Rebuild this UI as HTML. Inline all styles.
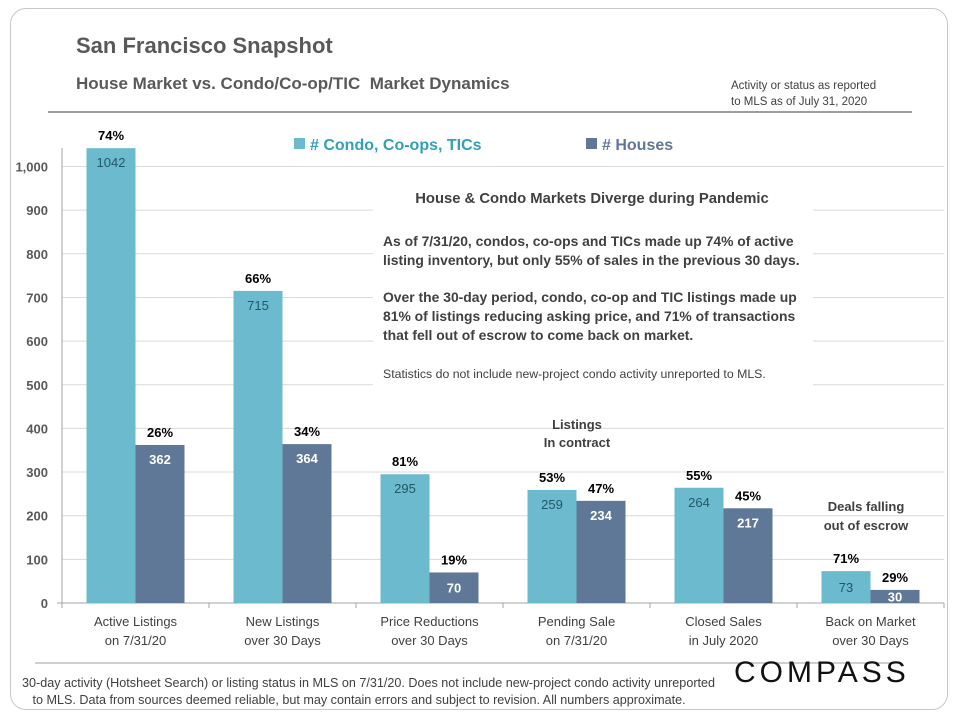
<!DOCTYPE html>
<html><head><meta charset="utf-8">
<style>
body{margin:0;background:#fff;font-family:"Liberation Sans",sans-serif;}
#wrap{position:relative;width:960px;height:720px;overflow:hidden;}
#card{position:absolute;left:10px;top:8px;width:938px;height:702px;border:1.5px solid #c8c8c8;border-radius:16px;box-sizing:border-box;}
.t{position:absolute;white-space:nowrap;}
</style></head><body>
<div id="wrap">
<div id="card"></div>
<div class="t" style="left:76px;top:33px;font-size:22px;font-weight:bold;color:#595959;">San Francisco Snapshot</div>
<div class="t" style="left:76px;top:74px;font-size:17px;font-weight:bold;color:#595959;">House Market vs. Condo/Co-op/TIC&nbsp; Market Dynamics</div>
<div class="t" style="left:731px;top:78px;font-size:11.5px;color:#404040;line-height:16px;">Activity or status as reported<br>to MLS as of July 31, 2020</div>
<svg id="chart" width="960" height="720" style="position:absolute;left:0;top:0"></svg>
<div class="t" style="left:22px;top:675px;font-size:12.6px;color:#404040;line-height:17px;">30-day activity (Hotsheet Search) or listing status in MLS on 7/31/20. Does not include new-project condo activity unreported<br>&nbsp;&nbsp; to MLS. Data from sources deemed reliable, but may contain errors and subject to revision. All numbers approximate.</div>
<div class="t" style="left:734px;top:656px;font-size:30px;letter-spacing:4px;color:#111;">COMPASS</div>
</div>
<script>
const categories=[["Active Listings","on 7/31/20"],["New Listings","over 30 Days"],["Price Reductions","over 30 Days"],["Pending Sale","on 7/31/20"],["Closed Sales","in July 2020"],["Back on Market","over 30 Days"]];
const condoValues=[1042,715,295,259,264,73];
const houseValues=[362,364,70,234,217,30];
const condoPct=["74%","66%","81%","53%","55%","71%"];
const housePct=["26%","34%","19%","47%","45%","29%"];
const yTicks=[0,100,200,300,400,500,600,700,800,900,1000];
const yTickLabels=["0","100","200","300","400","500","600","700","800","900","1,000"];
const NS="http://www.w3.org/2000/svg";
const svg=document.getElementById('chart');
const x0=62,catW=147,y0=603,pxPer=0.4365;
const yS=v=>y0-v*pxPer;
const catX=i=>x0+i*catW;
function el(t,a,p){const e=document.createElementNS(NS,t);for(const k in a)e.setAttribute(k,a[k]);(p||svg).appendChild(e);return e;}
function tx(x,y,s,a){const e=el('text',Object.assign({x:x,y:y,'font-family':'Liberation Sans, sans-serif','text-anchor':'middle'},a));e.textContent=s;return e;}
function labY(v){const h=v*pxPer;return h<36?yS(v)+h/2+5:yS(v)+19;}
let l=el('line',{x1:48,y1:112,x2:912,y2:112,stroke:'#7f7f7f','stroke-width':1.5});

l=el('line',{x1:35,y1:663,x2:900,y2:663,stroke:'#bfbfbf','stroke-width':1.5});

yTicks.forEach((v,i)=>{
 if(v>0){const g=el('line',{x1:x0,y1:yS(v),x2:x0+6*catW,y2:yS(v),stroke:'#d9d9d9','stroke-width':1});
 }
 const t=tx(48,yS(v)+5,yTickLabels[i],{'text-anchor':'end','font-size':13,fill:'#595959','font-weight':'bold'});
 
});
l=el('line',{x1:x0,y1:148,x2:x0,y2:y0,stroke:'#a6a6a6'});
l=el('line',{x1:x0-5,y1:y0,x2:x0+6*catW,y2:y0,stroke:'#a6a6a6'});
for(let i=0;i<=6;i++){const k=el('line',{x1:catX(i),y1:y0,x2:catX(i),y2:y0+5,stroke:'#a6a6a6'});}
categories.forEach((c,i)=>{
 const cx=catX(i)+catW/2;
 const bc=el('rect',{x:cx-49,y:yS(condoValues[i]),width:49,height:condoValues[i]*pxPer,fill:'#6cbacd'});
 
 const bh=el('rect',{x:cx,y:yS(houseValues[i]),width:49,height:houseValues[i]*pxPer,fill:'#607898'});
 
 let t=tx(cx-24.5,labY(condoValues[i]),String(condoValues[i]),{'font-size':13,fill:'#215868'});
 t=tx(cx+24.5,labY(houseValues[i]),String(houseValues[i]),{'font-size':13,fill:'#fff','font-weight':'bold'});
 t=tx(cx-24.5,yS(condoValues[i])-8,condoPct[i],{'font-size':13,'font-weight':'bold',fill:'#000'});
 t=tx(cx+24.5,yS(houseValues[i])-8,housePct[i],{'font-size':13,'font-weight':'bold',fill:'#000'});
 t=tx(cx,626,c[0],{'font-size':13,fill:'#404040'});
 t=tx(cx,645,c[1],{'font-size':13,fill:'#404040'});
});
let r=el('rect',{x:373,y:178,width:440,height:212,fill:'#fff'});
const ann=[[592,203,"House & Condo Markets Diverge during Pandemic",14.8,'#404040','bold','middle'],
[383,246,"As of 7/31/20, condos, co-ops and TICs made up 74% of active",13.9,'#404040','bold','start'],
[383,265,"listing inventory, but only 55% of sales in the previous 30 days.",13.9,'#404040','bold','start'],
[383,302,"Over the 30-day period, condo, co-op and TIC listings made up",13.9,'#404040','bold','start'],
[383,321,"81% of listings reducing asking price, and 71% of transactions",13.9,'#404040','bold','start'],
[383,340,"that fell out of escrow to come back on market.",13.9,'#404040','bold','start'],
[383,378,"Statistics do not include new-project condo activity unreported to MLS.",12.3,'#404040','normal','start'],
[577,429,"Listings",13,'#404040','bold','middle'],[577,447,"In contract",13,'#404040','bold','middle'],
[866,511,"Deals falling",13,'#404040','bold','middle'],[866,530,"out of escrow",13,'#404040','bold','middle']];
ann.forEach(a=>{const t=tx(a[0],a[1],a[2],{'font-size':a[3],fill:a[4],'font-weight':a[5],'text-anchor':a[6]});});
r=el('rect',{x:294,y:138,width:11,height:11,fill:'#6cbacd'});
let t=tx(310,150,"# Condo, Co-ops, TICs",{'font-size':16,'font-weight':'bold',fill:'#31a0b8','text-anchor':'start'});
r=el('rect',{x:586,y:138,width:11,height:11,fill:'#607898'});
t=tx(602,150,"# Houses",{'font-size':16,'font-weight':'bold',fill:'#607898','text-anchor':'start'});
</script>
</body></html>
